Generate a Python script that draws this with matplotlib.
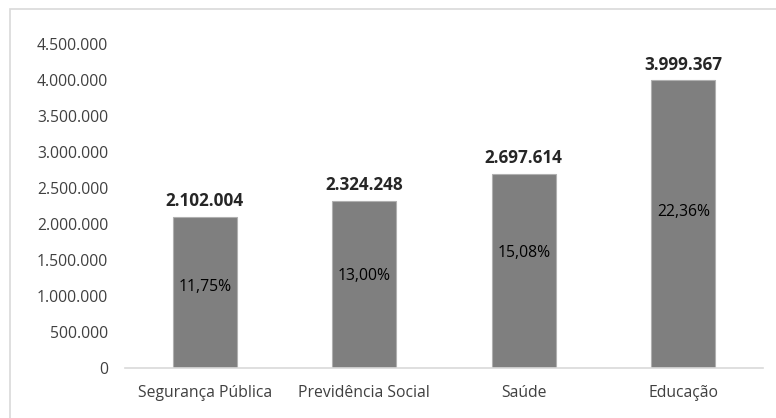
import numpy as np
import matplotlib
matplotlib.use('Agg')
import matplotlib.pyplot as plt
from matplotlib.patches import Rectangle

plt.rcParams['font.family'] = ['Open Sans', 'DejaVu Sans']

# data
categories = ['Segurança Pública', 'Previdência Social', 'Saúde', 'Educação']
values = [2102004, 2324248, 2697614, 3999367]
percent_labels = ['11,75%', '13,00%', '15,08%', '22,36%']
yticks = [0, 500000, 1000000, 1500000, 2000000, 2500000, 3000000, 3500000, 4000000, 4500000]


def fmt_br(v):
    # thousands separated by dots
    return f'{int(v):,}'.replace(',', '.')


fig = plt.figure(figsize=(7.76, 4.18), dpi=100)

# outer chart frame (only top and left are visible in the reference)
fig.patches.append(Rectangle((10 / 776, -0.05), 1.2, 1 - 9 / 418 + 0.05,
                             transform=fig.transFigure, fill=False,
                             edgecolor='#d9d9d9', linewidth=1.2))

ax = fig.add_axes([125 / 776, 50 / 418, (763 - 125) / 776, (368 - 44) / 418])

x = np.arange(len(categories))
bars = ax.bar(x, values, width=0.4, color='#7f7f7f', edgecolor='#b0b0b0', linewidth=0.8)

ax.set_xlim(-0.5, len(categories) - 0.5)
ax.set_ylim(0, 4500000)
ax.set_yticks(yticks)
ax.set_yticklabels([fmt_br(t) for t in yticks], fontsize=11.3, color='#404040')
ax.set_xticks(x)
ax.set_xticklabels(categories, fontsize=11.3, color='#404040')
ax.tick_params(axis='both', length=0)
ax.tick_params(axis='y', pad=12)
ax.tick_params(axis='x', pad=12)

for s in ['top', 'right', 'left']:
    ax.spines[s].set_visible(False)
ax.spines['bottom'].set_color('#d9d9d9')
ax.spines['bottom'].set_linewidth(1.2)

# value labels above bars, percentage inside
pct_shift = [0.07, 0.12, 0.25, 0.17]
for xi, v, p, sh in zip(x, values, percent_labels, pct_shift):
    ax.text(xi, v + 90000, fmt_br(v), ha='center', va='bottom',
            fontsize=12.3, fontweight='bold', color='#262626')
    ax.text(xi, v / 2 + sh * 1e6, p, ha='center', va='center',
            fontsize=11.3, color='#000000')

fig.savefig('out.png', dpi=100)
